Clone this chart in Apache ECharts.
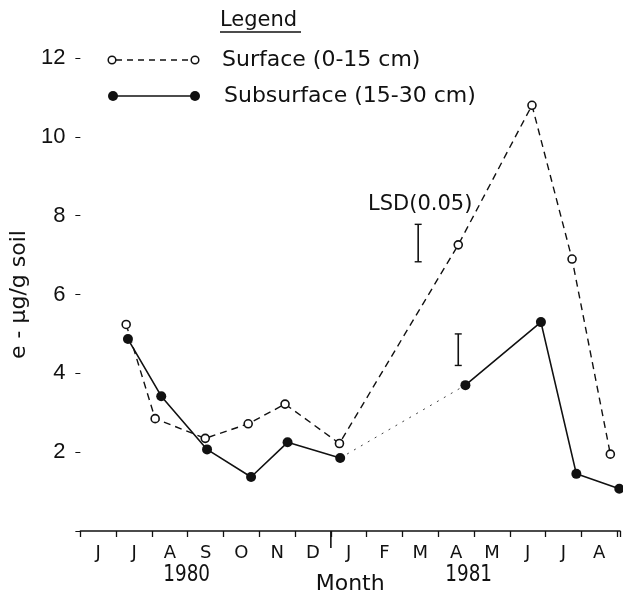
<!DOCTYPE html>
<html>
<head>
<meta charset="utf-8">
<script src="https://cdn.jsdelivr.net/npm/echarts@6/dist/echarts.min.js"></script>
<style>
html,body{margin:0;padding:0;background:#fff;}
#chart{width:623px;height:600px;}
</style>
</head>
<body>
<div id="chart"></div>
<script>
// Months June 1980 .. August 1981 (x = months since 1 June 1980)
const months = ['J','J','A','S','O','N','D','J','F','M','A','M','J','J','A'];
const yTicks = [2, 4, 6, 8, 10, 12];
// Surface (0-15 cm)
const surfaceX = [1.28, 2.09, 3.49, 4.69, 5.72, 7.24, 10.56, 12.62, 13.74, 14.81];
const surfaceY = [5.24, 2.85, 2.35, 2.72, 3.22, 2.22, 7.26, 10.8, 6.9, 1.95];
// Subsurface (15-30 cm)
const subX = [1.33, 2.26, 3.54, 4.77, 5.79, 7.26, 10.76, 12.87, 13.86, 15.06];
const subY = [4.87, 3.42, 2.07, 1.37, 2.25, 1.85, 3.7, 5.3, 1.45, 1.07];
// LSD(0.05) bars: [x, low, high]
const lsdBars = [[9.44, 6.83, 7.78], [10.56, 4.2, 5.0]];
const yearLabels = [['1980', 2.97], ['1981', 10.85]];
const yearBoundary = [7];

const narrow = '"Liberation Sans",Arial,sans-serif';
const sans = '"DejaVu Sans",sans-serif';
const ink = '#111';

const zip = (xs, ys) => xs.map((x, i) => [x, ys[i]]);
const surf = zip(surfaceX, surfaceY);
const sub = zip(subX, subY);

const chart = echarts.init(document.getElementById('chart'));
chart.setOption({
  animation: false,
  backgroundColor: '#fff',
  grid: {left: 71.4, right: 0, top: 58, bottom: 62, containLabel: false},
  xAxis: [
    {
      type: 'value', min: 0, max: 15.08, interval: 1,
      axisLine: {show: true, lineStyle: {color: ink, width: 1.5}},
      axisTick: {show: true, length: 6, lineStyle: {color: ink, width: 1.3}},
      axisLabel: {show: false},
      splitLine: {show: false},
      name: 'Month', nameLocation: 'middle', nameGap: 42,
      nameTextStyle: {fontFamily: sans, fontSize: 22, color: ink}
    },
    {
      type: 'value', min: 0, max: 15.08, interval: 0.5, position: 'bottom',
      axisLine: {show: false}, axisTick: {show: false}, splitLine: {show: false},
      axisLabel: {
        margin: 13, fontFamily: sans, fontSize: 18, color: ink,
        showMinLabel: true, showMaxLabel: true,
        formatter: function (v) {
          const k = Math.floor(v);
          return (Math.abs(v - k - 0.5) < 1e-6 && months[k]) ? months[k] : '';
        }
      }
    }
  ],
  yAxis: {
    type: 'value', min: 0, max: 12, interval: 2,
    axisLine: {show: false},
    axisTick: {show: true, length: 5, lineStyle: {color: ink, width: 1}},
    splitLine: {show: false},
    axisLabel: {
      margin: 15, fontFamily: narrow, fontSize: 22, color: ink,
      formatter: v => (yTicks.indexOf(v) >= 0 ? String(v) : '')
    },
    name: 'e - μg/g soil', nameLocation: 'middle', nameGap: 43,
    nameTextStyle: {fontFamily: sans, fontSize: 22, color: ink}
  },
  series: [
    {
      name: 'Surface (0-15 cm)', type: 'line', data: surf,
      symbol: 'circle', symbolSize: 8,
      itemStyle: {color: '#fff', borderColor: ink, borderWidth: 1.6},
      lineStyle: {color: ink, width: 1.4, type: [7, 5]},
      z: 3
    },
    {
      name: 'Subsurface (15-30 cm)', type: 'line', data: sub.slice(0, 6),
      symbol: 'circle', symbolSize: 10,
      itemStyle: {color: ink, borderColor: ink, borderWidth: 0},
      lineStyle: {color: ink, width: 1.6}, z: 4
    },
    {
      name: 'sub-gap', type: 'line', data: sub.slice(5, 7),
      symbol: 'none',
      lineStyle: {color: '#444', width: 1, type: [2, 6]}, z: 2
    },
    {
      name: 'sub-2', type: 'line', data: sub.slice(6),
      symbol: 'circle', symbolSize: 10,
      itemStyle: {color: ink, borderColor: ink, borderWidth: 0},
      lineStyle: {color: ink, width: 1.6}, z: 4
    },
    {
      name: 'LSD', type: 'custom', data: lsdBars,
      renderItem: function (params, api) {
        const x = api.value(0);
        const lo = api.coord([x, api.value(1)]);
        const hi = api.coord([x, api.value(2)]);
        const cap = 3.5;
        return {
          type: 'group',
          children: [
            {type: 'line', shape: {x1: lo[0], y1: lo[1], x2: hi[0], y2: hi[1]}, style: {stroke: ink, lineWidth: 1.6}},
            {type: 'line', shape: {x1: lo[0] - cap, y1: lo[1], x2: lo[0] + cap, y2: lo[1]}, style: {stroke: ink, lineWidth: 1.4}},
            {type: 'line', shape: {x1: hi[0] - cap, y1: hi[1], x2: hi[0] + cap, y2: hi[1]}, style: {stroke: ink, lineWidth: 1.4}}
          ]
        };
      }
    },
    {
      name: 'yearTick', type: 'custom', data: yearBoundary.map(v => [v, 0]),
      renderItem: function (params, api) {
        const p = api.coord([api.value(0), 0]);
        return {type: 'line', shape: {x1: p[0], y1: p[1], x2: p[0], y2: p[1] + 17}, style: {stroke: ink, lineWidth: 1.6}};
      }
    },
    {
      name: 'years', type: 'custom', data: yearLabels.map(d => [d[1], 0]),
      renderItem: function (params, api) {
        const p = api.coord([api.value(0), 0]);
        return {
          type: 'text', x: p[0], y: p[1] + 44, scaleX: 0.8,
          style: {text: yearLabels[params.dataIndex][0], fontFamily: sans, fontSize: 23, fill: ink, align: 'center', verticalAlign: 'middle'}
        };
      }
    }
  ],
  graphic: [
    {type: 'text', left: 220, top: 10, style: {text: 'Legend', fontFamily: sans, fontSize: 21, fill: ink}},
    {type: 'line', shape: {x1: 220, y1: 32, x2: 301, y2: 32}, style: {stroke: ink, lineWidth: 1.3}},
    {type: 'line', shape: {x1: 116, y1: 60, x2: 191, y2: 60}, style: {stroke: ink, lineWidth: 1.5, lineDash: [6, 5]}},
    {type: 'circle', shape: {cx: 112, cy: 60, r: 3.8}, style: {fill: '#fff', stroke: ink, lineWidth: 1.5}},
    {type: 'circle', shape: {cx: 195, cy: 60, r: 3.8}, style: {fill: '#fff', stroke: ink, lineWidth: 1.5}},
    {type: 'text', x: 222, y: 60, style: {text: 'Surface (0-15 cm)', fontFamily: sans, fontSize: 22, fill: ink, verticalAlign: 'middle'}},
    {type: 'line', shape: {x1: 113, y1: 96, x2: 195, y2: 96}, style: {stroke: ink, lineWidth: 1.6}},
    {type: 'circle', shape: {cx: 113, cy: 96, r: 5}, style: {fill: ink}},
    {type: 'circle', shape: {cx: 195, cy: 96, r: 5}, style: {fill: ink}},
    {type: 'text', x: 224, y: 96, style: {text: 'Subsurface (15-30 cm)', fontFamily: sans, fontSize: 22, fill: ink, verticalAlign: 'middle'}},
    {type: 'text', x: 368, y: 205, style: {text: 'LSD(0.05)', fontFamily: sans, fontSize: 21, fill: ink, verticalAlign: 'middle'}}
  ]
});
</script>
</body>
</html>
